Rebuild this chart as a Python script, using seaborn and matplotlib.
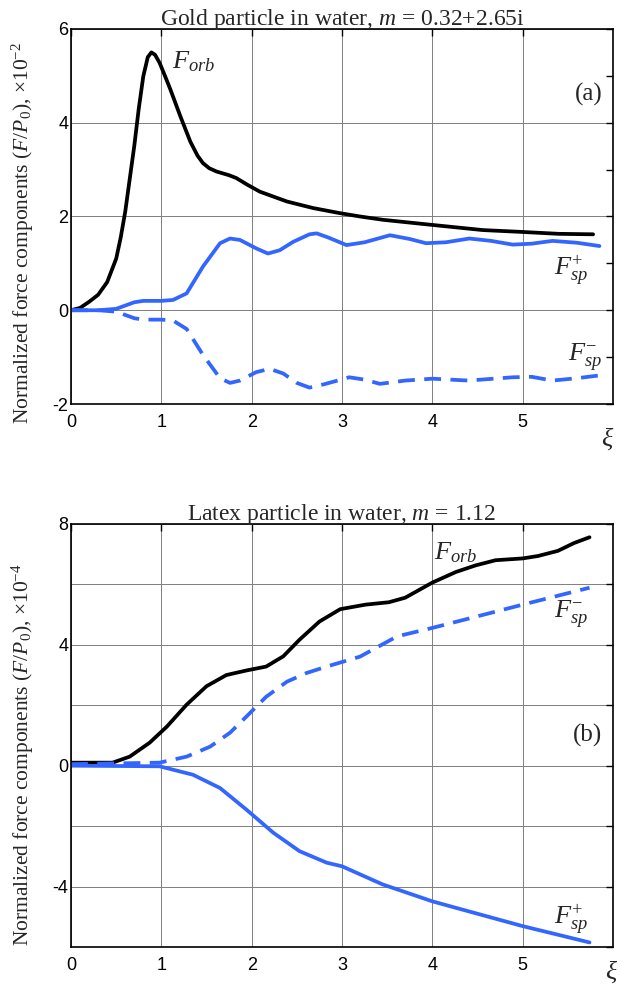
import pandas as pd
import matplotlib
matplotlib.use("Agg")
import matplotlib.pyplot as plt
import seaborn as sns

# ---- panel (a): gold particle, values x1e-2 ----
a_orb_x = [0, 0.1, 0.2, 0.3, 0.4, 0.5, 0.55, 0.6, 0.65, 0.7, 0.75, 0.8, 0.85, 0.89, 0.93, 0.98,
           1.04, 1.10, 1.21, 1.32, 1.40, 1.46, 1.53, 1.61, 1.75, 1.83, 1.95, 2.09, 2.39, 2.68, 2.98,
           3.20, 3.45, 4.0, 4.56, 5.0, 5.4, 5.78]
a_orb_y = [0.0, 0.05, 0.18, 0.33, 0.6, 1.1, 1.55, 2.1, 2.8, 3.5, 4.3, 4.99, 5.4, 5.50, 5.45, 5.28,
           5.0, 4.71, 4.14, 3.6, 3.3, 3.14, 3.03, 2.96, 2.88, 2.82, 2.68, 2.53, 2.32, 2.18, 2.07,
           2.00, 1.93, 1.82, 1.71, 1.67, 1.63, 1.62]

a_spp_x = [0, 0.3, 0.5, 0.6, 0.7, 0.8, 1.0, 1.13, 1.28, 1.46, 1.65, 1.76, 1.87, 2.05, 2.18, 2.31,
           2.46, 2.64, 2.72, 2.85, 3.05, 3.25, 3.53, 3.75, 3.93, 4.15, 4.41, 4.65, 4.89, 5.1, 5.33,
           5.6, 5.85]
a_spp_y = [0, 0.0, 0.03, 0.1, 0.17, 0.2, 0.2, 0.22, 0.36, 0.93, 1.43, 1.53, 1.50, 1.32, 1.21, 1.28,
           1.46, 1.62, 1.64, 1.55, 1.39, 1.45, 1.60, 1.52, 1.43, 1.45, 1.53, 1.48, 1.40, 1.42, 1.48,
           1.44, 1.37]

a_spm_x = [0, 0.3, 0.5, 0.6, 0.7, 0.8, 1.0, 1.13, 1.28, 1.46, 1.65, 1.76, 1.87, 2.05, 2.2, 2.35,
           2.5, 2.64, 2.8, 3.08, 3.25, 3.42, 3.7, 4.0, 4.4, 4.89, 5.1, 5.33, 5.6, 5.85]
a_spm_y = [0, 0, -0.03, -0.1, -0.17, -0.2, -0.2, -0.22, -0.4, -0.95, -1.45, -1.55, -1.5, -1.32,
           -1.25, -1.35, -1.55, -1.65, -1.58, -1.43, -1.48, -1.57, -1.5, -1.46, -1.5, -1.43, -1.42,
           -1.5, -1.45, -1.39]

# ---- panel (b): latex particle, values x1e-4 ----
b_orb_x = [0, 0.46, 0.65, 0.87, 1.06, 1.28, 1.50, 1.72, 1.94, 2.16, 2.35, 2.53, 2.75, 2.98, 3.26,
           3.52, 3.70, 4.0, 4.26, 4.48, 4.70, 5.0, 5.17, 5.39, 5.57, 5.74]
b_orb_y = [0.1, 0.1, 0.3, 0.76, 1.29, 2.02, 2.63, 3.0, 3.15, 3.28, 3.62, 4.17, 4.77, 5.18, 5.33,
           5.41, 5.56, 6.06, 6.41, 6.63, 6.8, 6.86, 6.94, 7.11, 7.37, 7.56]

b_spm_x = [0, 0.98, 1.28, 1.54, 1.76, 1.94, 2.16, 2.39, 2.61, 2.83, 3.20, 3.61, 4.0, 4.43, 5.0, 5.74]
b_spm_y = [0.05, 0.1, 0.3, 0.63, 1.09, 1.62, 2.28, 2.78, 3.07, 3.28, 3.61, 4.28, 4.56, 4.89, 5.33, 5.89]

b_spp_x = [0, 0.98, 1.35, 1.65, 1.94, 2.24, 2.53, 2.83, 3.0, 3.45, 4.0, 4.45, 5.0, 5.37, 5.74]
b_spp_y = [0, -0.02, -0.3, -0.74, -1.45, -2.22, -2.83, -3.21, -3.33, -3.93, -4.49, -4.86, -5.31,
           -5.58, -5.85]

x_ticks = [0, 1, 2, 3, 4, 5]

sns.set_style("white")
plt.rcParams['font.family'] = ['Liberation Serif', 'DejaVu Serif']
plt.rcParams['mathtext.fontset'] = 'custom'
plt.rcParams['mathtext.rm'] = 'Liberation Serif'
plt.rcParams['mathtext.it'] = 'Liberation Serif:italic'
plt.rcParams['mathtext.bf'] = 'Liberation Serif:bold'
plt.rcParams['axes.unicode_minus'] = False

blue = '#3366ff'
lw = 2.7

fig = plt.figure(figsize=(6.17, 9.89), dpi=100)
ax_a = fig.add_axes([0.1151, 0.5915, 0.8784, 0.3792])
ax_b = fig.add_axes([0.1151, 0.0425, 0.8784, 0.4277])


def draw(ax, x, y, color, dashed=False):
    df = pd.DataFrame({'xi': x, 'F': y})
    sns.lineplot(data=df, x='xi', y='F', ax=ax, color=color, linewidth=lw)
    line = ax.lines[-1]
    line.set_solid_joinstyle('round')
    line.set_dash_joinstyle('round')
    if dashed:
        line.set_dashes((4.5, 2.5))


draw(ax_a, a_orb_x, a_orb_y, 'black')
draw(ax_a, a_spp_x, a_spp_y, blue)
draw(ax_a, a_spm_x, a_spm_y, blue, dashed=True)

draw(ax_b, b_orb_x, b_orb_y, 'black')
draw(ax_b, b_spm_x, b_spm_y, blue, dashed=True)
draw(ax_b, b_spp_x, b_spp_y, blue)


def style(ax, ylim, yticks, ylabels, minor):
    ax.set_xlim(0, 6)
    ax.set_ylim(*ylim)
    ax.set_xticks(x_ticks)
    ax.set_xticklabels([str(t) for t in x_ticks], fontfamily='Liberation Sans', fontsize=13)
    ax.set_yticks(yticks)
    ax.set_yticklabels(ylabels, fontfamily='Liberation Sans', fontsize=13)
    if minor:
        ax.set_yticks(minor, minor=True)
    ax.tick_params(which='both', direction='in', top=True, right=True, length=5, width=1,
                   colors='black')
    ax.tick_params(axis='x', pad=7)
    ax.tick_params(axis='y', pad=2)
    ax.grid(True, which='major', color='#7f7f7f', linewidth=0.7)
    for s in ax.spines.values():
        s.set_visible(True)
        s.set_color('black')
        s.set_linewidth(1.2)
    ax.set_xlabel('')


style(ax_a, (-2, 6), [-2, 0, 2, 4, 6], ['-2', '0', '2', '4', '6'], [-1, 1, 3, 5])
style(ax_b, (-6, 8), [-6, -4, -2, 0, 2, 4, 6, 8], ['', '-4', '', '0', '', '4', '', '8'], None)

for ax, panel_title, exp in [(ax_a, r'Gold particle in water, $m$ = 0.32+2.65i', '-2'),
                             (ax_b, r'Latex particle in water, $m$ = 1.12', '-4')]:
    ax.set_title(panel_title, fontsize=17, pad=3)
    ax.set_ylabel(r'Normalized force components ($F$/$P$$_0$), ×10$^{' + exp.replace('-', '−') + '}$',
                  fontsize=15.5)
    ax.yaxis.set_label_coords(-0.064, 0.455)

# xi labels at the right end of each x axis
fig.text(608 / 617, 1 - 425 / 989, r'$\xi$', fontsize=19, ha='center', va='top')
fig.text(612 / 617, 1 - 958 / 989, r'$\xi$', fontsize=19, ha='center', va='top')

# curve labels, panel (a)
ax_a.text(1.12, 5.15, r'$F_{orb}$', fontsize=19)
ax_a.text(5.88, 4.6, '(a)', fontsize=18, ha='right', va='center')
ax_a.text(5.35, 0.85, r'$F_{sp}^{+}$', fontsize=19, va='center')
ax_a.text(5.5, -1.0, r'$F_{sp}^{-}$', fontsize=19, va='center')

# curve labels, panel (b)
ax_b.text(4.02, 7.05, r'$F_{orb}$', fontsize=19, va='center')
ax_b.text(5.35, 5.0, r'$F_{sp}^{-}$', fontsize=19, va='center')
ax_b.text(5.88, 1.0, '(b)', fontsize=18, ha='right', va='center')
ax_b.text(5.35, -5.1, r'$F_{sp}^{+}$', fontsize=19, va='center')

fig.savefig('out.png', dpi=100)
